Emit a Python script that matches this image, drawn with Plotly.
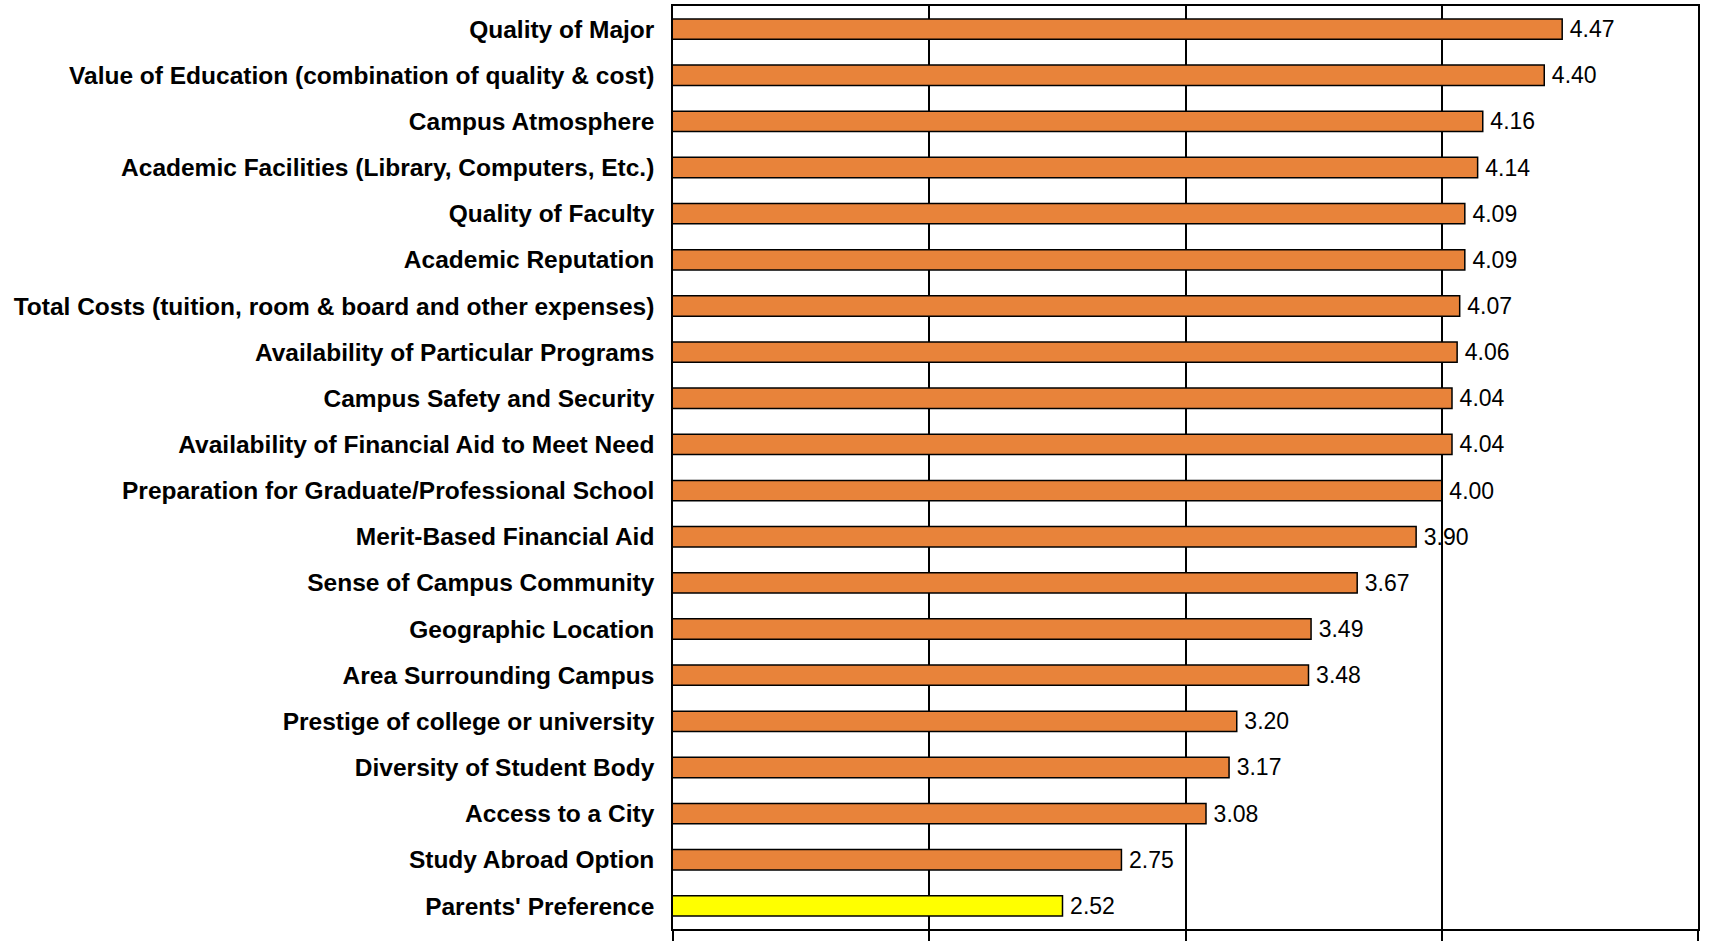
import plotly.graph_objects as go

categories = [
    "Quality of Major",
    "Value of Education (combination of quality & cost)",
    "Campus Atmosphere",
    "Academic Facilities (Library, Computers, Etc.)",
    "Quality of Faculty",
    "Academic Reputation",
    "Total Costs (tuition, room & board and other expenses)",
    "Availability of Particular Programs",
    "Campus Safety and Security",
    "Availability of Financial Aid to Meet Need",
    "Preparation for Graduate/Professional School",
    "Merit-Based Financial Aid",
    "Sense of Campus Community",
    "Geographic Location",
    "Area Surrounding Campus",
    "Prestige of college or university",
    "Diversity of Student Body",
    "Access to a City",
    "Study Abroad Option",
    "Parents' Preference",
]
values = [4.47, 4.40, 4.16, 4.14, 4.09, 4.09, 4.07, 4.06, 4.04, 4.04,
          4.00, 3.90, 3.67, 3.49, 3.48, 3.20, 3.17, 3.08, 2.75, 2.52]
highlight = ["Parents' Preference"]
x_ticks = [1, 2, 3, 4, 5]

ORANGE = "#E8833A"
YELLOW = "#FFFF00"
colors = [YELLOW if c in highlight else ORANGE for c in categories]

FONT = "Liberation Sans, Arial, sans-serif"

fig = go.Figure(go.Bar(
    y=categories,
    x=values,
    orientation="h",
    marker=dict(color=colors, line=dict(color="black", width=1.5)),
    text=values,
    texttemplate="\u2009%{x:.2f}",
    textposition="outside",
    constraintext="none",
    textfont=dict(family=FONT, size=23, color="black"),
    cliponaxis=False,
))

fig.update_layout(
    width=1710,
    height=941,
    margin=dict(l=673, r=12, t=6, b=12, autoexpand=False),
    paper_bgcolor="white",
    plot_bgcolor="white",
    bargap=0.56,
    showlegend=False,
    font=dict(family=FONT, color="black"),
)
fig.update_xaxes(
    range=[1, 5],
    tickvals=x_ticks,
    showticklabels=False,
    showgrid=True,
    gridcolor="black",
    gridwidth=1.5,
    showline=True,
    linecolor="black",
    linewidth=2,
    mirror=True,
    ticks="outside",
    ticklen=12,
    tickwidth=1.5,
    tickcolor="black",
    zeroline=False,
    automargin=False,
    fixedrange=True,
)
fig.update_yaxes(
    autorange="reversed",
    showline=True,
    linecolor="black",
    linewidth=1.5,
    mirror=True,
    ticks="",
    ticklabelstandoff=12,
    tickfont=dict(family=FONT, size=24.5, color="black", weight="bold"),
    showgrid=False,
    automargin=False,
    fixedrange=True,
)

fig.write_html(
    "out.html",
    config={"displayModeBar": False},
    post_script="document.body.style.margin='0';document.body.style.overflow='hidden';",
)
